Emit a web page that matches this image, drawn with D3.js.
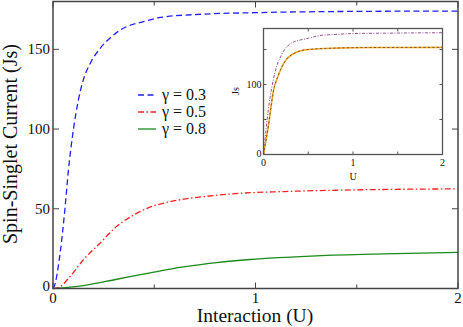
<!DOCTYPE html>
<html lang="en">
<head>
<meta charset="utf-8">
<title>Spin-Singlet Current</title>
<script src="https://cdn.jsdelivr.net/npm/d3@7"></script>
<style>
  body { margin: 0; background: #fff; }
</style>
</head>
<body>
<script>
// main panel: Js vs U for three gamma values
const gammaLabels = ["γ = 0.3", "γ = 0.5", "γ = 0.8"];
const curveG03 = [[0,0],[0.005,1],[0.035,22],[0.059,50],[0.076,74],[0.1,99],[0.125,118],[0.15,131],[0.183,141],[0.232,150.5],[0.281,157],[0.331,162],[0.45,167.5],[0.53,170],[0.73,172],[1.0,173],[1.5,173.8],[2,174]];
const curveG05 = [[0,0],[0.026,0.5],[0.084,7.5],[0.15,18],[0.232,28.4],[0.315,39],[0.397,46],[0.479,51],[0.561,54],[0.644,56],[0.758,57.8],[0.9,59.5],[1.14,60.8],[1.47,61.8],[2,62.5]];
const curveG08 = [[0,0],[0.15,1.8],[0.315,5.8],[0.479,9.8],[0.644,13.5],[0.808,16.2],[0.973,18.2],[1.3,20.5],[1.63,21.7],[2,22.6]];

// inset panel
const insetPurple = [[0,0],[0.056,66],[0.13,118],[0.2,142],[0.31,159],[0.5,166],[0.63,170],[0.8,171.5],[1,172.8],[1.5,173.5],[2,174]];
const insetOrange = [[0,0],[0.056,42],[0.11,90],[0.168,114],[0.24,133],[0.35,145],[0.5,150],[0.8,152],[1.2,152.8],[2,153]];

const xTicks = [0, 1, 2];
const xMinor = [0.5, 1.5];
const yTicks = [0, 50, 100, 150];
const insetYTicks = [0, 100];
const insetYMinor = [50, 150];

const FONT = "'Liberation Serif', 'Times New Roman', 'DejaVu Serif', serif";
const W = 463, H = 327;
const svg = d3.select("body").append("svg").attr("width", W).attr("height", H)
  .attr("font-family", FONT);

const x = d3.scaleLinear().domain([0, 2]).range([53, 458]);
const y = d3.scaleLinear().domain([0, 180]).range([288.5, 1.5]);

function frame(g, xs, ys, opts) {
  const [x0, x1] = xs.range();
  const [y0, y1] = ys.range();
  // ticks inward on all four sides
  const major = opts.major, minor = opts.minor;
  opts.xt.forEach(v => {
    g.append("line").attr("x1", xs(v)).attr("x2", xs(v)).attr("y1", y0).attr("y2", y0 - major);
    g.append("line").attr("x1", xs(v)).attr("x2", xs(v)).attr("y1", y1).attr("y2", y1 + major);
  });
  opts.xm.forEach(v => {
    g.append("line").attr("x1", xs(v)).attr("x2", xs(v)).attr("y1", y0).attr("y2", y0 - minor);
    g.append("line").attr("x1", xs(v)).attr("x2", xs(v)).attr("y1", y1).attr("y2", y1 + minor);
  });
  opts.yt.forEach(v => {
    g.append("line").attr("x1", x0).attr("x2", x0 + major).attr("y1", ys(v)).attr("y2", ys(v));
    g.append("line").attr("x1", x1).attr("x2", x1 - major).attr("y1", ys(v)).attr("y2", ys(v));
  });
  opts.ym.forEach(v => {
    g.append("line").attr("x1", x0).attr("x2", x0 + minor).attr("y1", ys(v)).attr("y2", ys(v));
    g.append("line").attr("x1", x1).attr("x2", x1 - minor).attr("y1", ys(v)).attr("y2", ys(v));
  });
  g.selectAll("line").attr("stroke", opts.color).attr("stroke-width", 1);
  g.append("rect")
    .attr("x", x0).attr("y", y1).attr("width", x1 - x0).attr("height", y0 - y1)
    .attr("fill", "none").attr("stroke", opts.color).attr("stroke-width", opts.sw);
  g.selectAll(".xl").data(opts.xt).join("text")
    .attr("x", d => xs(d)).attr("y", y0 + opts.xlOff)
    .attr("text-anchor", "middle").attr("font-size", opts.fs).attr("fill", "#111").text(d => d);
  g.selectAll(".yl").data(opts.yt).join("text")
    .attr("x", x0 - opts.ylOff).attr("y", d => ys(d) + opts.fs * 0.33 - (d === 0 ? opts.zeroLift : 0))
    .attr("text-anchor", "end").attr("font-size", opts.fs).attr("fill", "#111").text(d => d);
}

const line = d3.line().x(d => x(d[0])).y(d => y(d[1])).curve(d3.curveMonotoneX);

svg.append("path").datum(curveG03).attr("d", line)
  .attr("fill", "none").attr("stroke", "#1f1fff").attr("stroke-width", 1.3)
  .attr("stroke-dasharray", "6,3.5");
svg.append("path").datum(curveG05).attr("d", line)
  .attr("fill", "none").attr("stroke", "#ff2020").attr("stroke-width", 1.3)
  .attr("stroke-dasharray", "6,2.5,1.5,2.5");
svg.append("path").datum(curveG08).attr("d", line)
  .attr("fill", "none").attr("stroke", "#1a8a1a").attr("stroke-width", 1.3);

frame(svg.append("g"), x, y, {
  xt: xTicks, xm: xMinor, yt: yTicks, ym: [], major: 6, minor: 4,
  color: "#444", sw: 1.5, fs: 15, xlOff: 14, ylOff: 3, zeroLift: 2
});

// axis titles
svg.append("text").attr("x", 255).attr("y", 322)
  .attr("text-anchor", "middle").attr("font-size", 19.5).attr("fill", "#111").text("Interaction (U)");
svg.append("text").attr("transform", "translate(17,144) rotate(-90)")
  .attr("text-anchor", "middle").attr("font-size", 20).attr("fill", "#111").text("Spin-Singlet Current (Js)");

// legend
const legendStyles = [
  { color: "#1f1fff", dash: "6,3.5" },
  { color: "#ff2020", dash: "6,2.5,1.5,2.5" },
  { color: "#1a8a1a", dash: null }
];
const legend = svg.append("g");
gammaLabels.forEach((t, i) => {
  const ly = 95 + i * 17;
  legend.append("line").attr("x1", 138).attr("x2", 156).attr("y1", ly).attr("y2", ly)
    .attr("stroke", legendStyles[i].color).attr("stroke-width", 1.3)
    .attr("stroke-dasharray", legendStyles[i].dash);
  legend.append("text").attr("x", 162).attr("y", ly + 5)
    .attr("font-size", 16).attr("fill", "#111").text(t);
});

// inset
const xi = d3.scaleLinear().domain([0, 2]).range([263.5, 442.5]);
const yi = d3.scaleLinear().domain([0, 180]).range([154.5, 28.5]);
const iline = d3.line().x(d => xi(d[0])).y(d => yi(d[1])).curve(d3.curveMonotoneX);
const inset = svg.append("g");
inset.append("rect").attr("x", 263.5).attr("y", 28.5).attr("width", 179).attr("height", 126).attr("fill", "#fff");
inset.append("path").datum(insetPurple).attr("d", iline)
  .attr("fill", "none").attr("stroke", "#9a4f8f").attr("stroke-width", 1)
  .attr("stroke-dasharray", "3,1.5,1,1.5");
inset.append("path").datum(insetOrange).attr("d", iline)
  .attr("fill", "none").attr("stroke", "#f5a623").attr("stroke-width", 1.6);
inset.append("path").datum(insetOrange).attr("d", iline)
  .attr("fill", "none").attr("stroke", "#333").attr("stroke-width", 0.7)
  .attr("stroke-dasharray", "2,2.5");
frame(inset.append("g"), xi, yi, {
  xt: xTicks, xm: xMinor, yt: insetYTicks, ym: insetYMinor, major: 3, minor: 3,
  color: "#555", sw: 1.3, fs: 10, xlOff: 11, ylOff: 2, zeroLift: 1
});
inset.append("text").attr("x", 353).attr("y", 180)
  .attr("text-anchor", "middle").attr("font-size", 10).attr("fill", "#111").text("U");
inset.append("text").attr("transform", "translate(239,91) rotate(-90)")
  .attr("text-anchor", "middle").attr("font-size", 10).attr("fill", "#111").text("Js");
</script>
</body>
</html>
